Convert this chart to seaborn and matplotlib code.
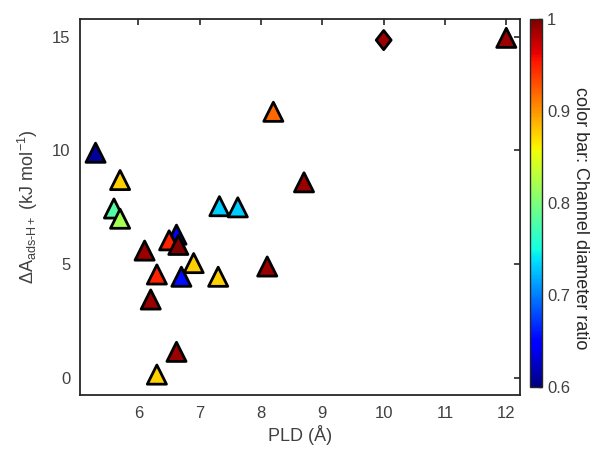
import numpy as np
import pandas as pd
import matplotlib
matplotlib.use("Agg")
import matplotlib.pyplot as plt
from matplotlib.path import Path
import seaborn as sns

# Pore limiting diameter (Å), adsorption free energy (kJ/mol), channel diameter ratio
pld = [5.3, 5.7, 5.6, 5.7, 6.62, 6.5, 6.65, 6.1, 6.3, 6.7, 6.9, 7.3,
       6.2, 6.62, 6.3, 7.32, 7.62, 8.2, 8.7, 8.1, 10.0, 12.0]
dA = [9.9, 8.7, 7.45, 7.0, 6.3, 6.05, 5.85, 5.6, 4.55, 4.45, 5.05, 4.45,
      3.45, 1.15, 0.15, 7.55, 7.5, 11.7, 8.6, 4.9, 14.85, 14.95]
ratio = [0.61, 0.875, 0.78, 0.82, 0.65, 0.95, 1.0, 0.99, 0.95, 0.655, 0.875, 0.875,
         0.99, 0.99, 0.875, 0.73, 0.73, 0.92, 0.99, 0.99, 0.99, 0.99]
shape = ["tri"] * 20 + ["dia", "tri"]

df = pd.DataFrame({"PLD": pld, "dA": dA, "ratio": ratio, "shape": shape})

sns.set_style("white")
plt.rcParams["font.family"] = ["Liberation Sans", "DejaVu Sans"]
plt.rcParams["mathtext.fontset"] = "custom"
plt.rcParams["mathtext.rm"] = "Liberation Sans"
plt.rcParams["mathtext.it"] = "Liberation Sans:italic"

TXT = "#404040"

diamond = Path([(0, 1), (0.78, 0), (0, -1), (-0.78, 0), (0, 1)],
               [Path.MOVETO, Path.LINETO, Path.LINETO, Path.LINETO, Path.CLOSEPOLY])

fig = plt.figure(figsize=(5.9, 4.51), dpi=100)
ax = fig.add_axes([0.136, 0.124, 0.745, 0.834])
cax = fig.add_axes([0.898, 0.142, 0.021, 0.815])

jet = matplotlib.colormaps["jet"]
norm = plt.Normalize(0.6, 1.0)
sns.scatterplot(data=df, x="PLD", y="dA", hue="ratio", palette=jet, hue_norm=norm,
                style="shape", markers={"tri": "^", "dia": diamond},
                s=190, edgecolor="black", linewidth=2.0, legend=False, ax=ax, zorder=3)

ax.set_xlim(5.05, 12.22)
ax.set_ylim(-0.75, 15.78)
ax.set_xticks([6, 7, 8, 9, 10, 11, 12])
ax.set_yticks([0, 5, 10, 15])
ax.tick_params(direction="in", length=4, width=1.2, top=True, right=True,
               labelsize=12, colors="#262626", labelcolor=TXT)
ax.tick_params(axis="x", pad=8)
ax.tick_params(axis="y", pad=7)
for sp in ax.spines.values():
    sp.set_color("#262626")
    sp.set_linewidth(1.3)
ax.set_xlabel("PLD (Å)", fontsize=13, color=TXT, labelpad=3)
ax.set_ylabel(r"$\Delta$A$_{\mathrm{ads\text{-}H+}}$ (kJ mol$^{-1}$)", fontsize=13,
              color=TXT, labelpad=9)

sm = plt.cm.ScalarMappable(norm=norm, cmap=jet)
cb = fig.colorbar(sm, cax=cax)
cb.set_ticks([0.6, 0.7, 0.8, 0.9, 1.0])
cb.set_ticklabels(["0.6", "0.7", "0.8", "0.9", "1"])
cb.ax.tick_params(direction="in", length=3, width=1, labelsize=12,
                  colors="#262626", labelcolor=TXT)
cb.outline.set_edgecolor("#262626")
cb.outline.set_linewidth(1.0)
fig.text(0.984, 0.517, "color bar: Channel diameter ratio", rotation=270,
         ha="center", va="center", fontsize=13, color="#262626")

fig.savefig("out.png", dpi=100, facecolor="white")
